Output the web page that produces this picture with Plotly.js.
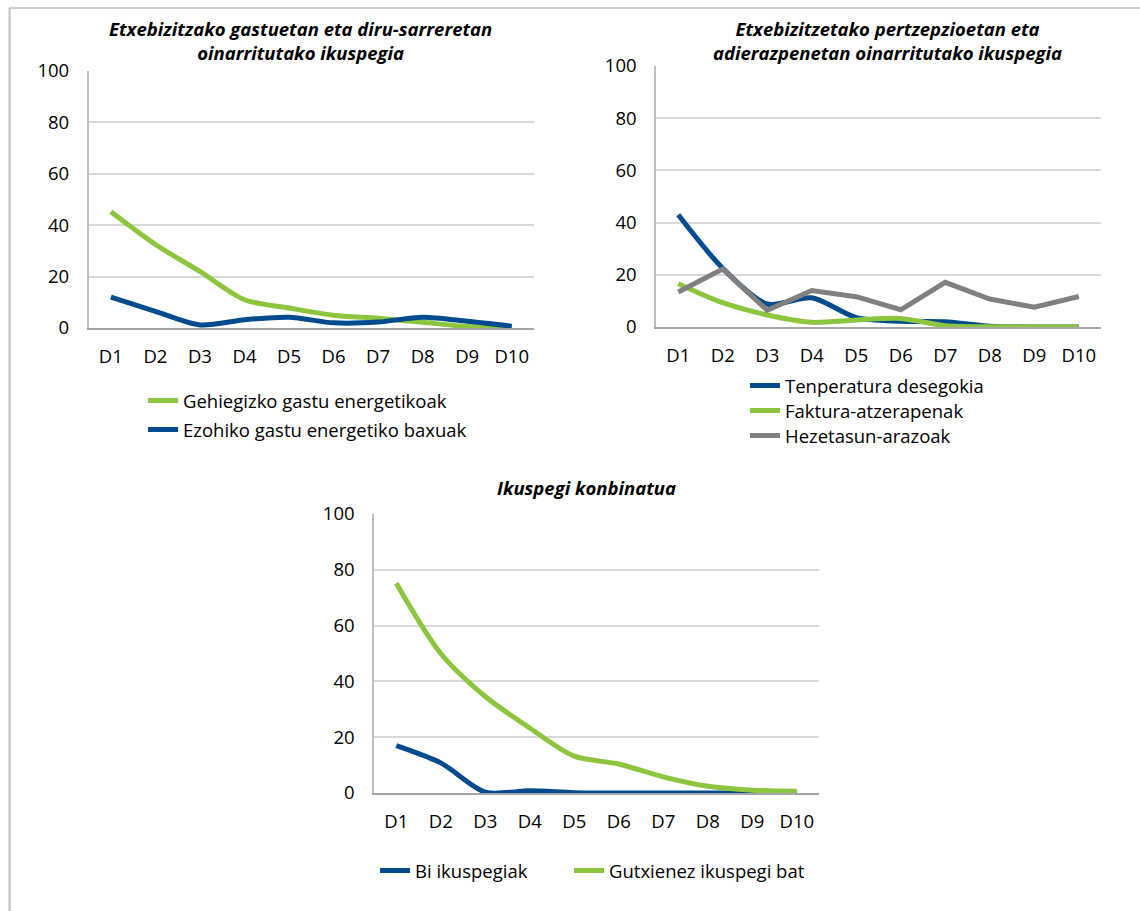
<!DOCTYPE html>
<html>
<head>
<meta charset="utf-8">
<script src="https://cdn.plot.ly/plotly-3.0.1.min.js"></script>
<style>
  html, body { margin: 0; padding: 0; background: #ffffff; }
  #chart { width: 1140px; height: 911px; }
</style>
</head>
<body>
<div id="chart"></div>
<script>
// ---------- DATA ----------
const deciles = ["D1", "D2", "D3", "D4", "D5", "D6", "D7", "D8", "D9", "D10"];

const title1 = "Etxebizitzako gastuetan eta diru-sarreretan<br>oinarritutako ikuspegia";
const title2 = "Etxebizitzetako pertzepzioetan eta<br>adierazpenetan oinarritutako ikuspegia";
const title3 = "Ikuspegi konbinatua";

const name1a = "Gehiegizko gastu energetikoak";
const vals1a = [45.2, 32.5, 22, 11, 7.8, 5, 3.8, 2.2, 0.6, 0.3];
const name1b = "Ezohiko gastu energetiko baxuak";
const vals1b = [12, 6.5, 1.2, 3.2, 4.2, 2, 2.3, 4.2, 2.6, 0.7];

const name2a = "Tenperatura desegokia";
const vals2a = [43, 22.5, 8.8, 11.2, 3.6, 2.2, 2, 0.3, 0, 0];
const name2b = "Faktura-atzerapenak";
const vals2b = [16.6, 9.3, 4.6, 1.8, 2.7, 3.3, 0.5, 0.1, 0, 0];
const name2c = "Hezetasun-arazoak";
const vals2c = [13.4, 22.2, 6.4, 14, 11.6, 6.6, 17.1, 10.7, 7.6, 11.7];

const name3a = "Bi ikuspegiak";
const vals3a = [17, 10.8, 0.3, 0.8, 0.1, 0, 0, 0, 0, 0];
const name3b = "Gutxienez ikuspegi bat";
const vals3b = [75.2, 50, 34.6, 23.3, 13.2, 10.4, 5.8, 2.4, 1, 0.6];

const yTicks = [0, 20, 40, 60, 80, 100];

// ---------- STYLE ----------
const GREEN = "#8cc63f";
const BLUE = "#004b8d";
const GRAY = "#808080";
const FONT = "Open Sans, Noto Sans, sans-serif";
const FS = 18.5;
const W = 1140, H = 911;
const px = v => v / W;
const py = v => 1 - v / H;

function tr(x, y, name, color, xa, ya, legend, smooth) {
  return {
    type: "scatter", mode: "lines", x: x, y: y, name: name,
    xaxis: xa, yaxis: ya, legend: legend,
    line: { color: color, width: 5, shape: smooth ? "spline" : "linear", smoothing: 0.8 },
    hoverinfo: "x+y+name"
  };
}

const data = [
  tr(deciles, vals1a, name1a, GREEN, "x", "y", "legend", true),
  tr(deciles, vals1b, name1b, BLUE, "x", "y", "legend2", true),
  tr(deciles, vals2a, name2a, BLUE, "x2", "y2", "legend3", true),
  tr(deciles, vals2b, name2b, GREEN, "x2", "y2", "legend4", true),
  tr(deciles, vals2c, name2c, GRAY, "x2", "y2", "legend5", false),
  tr(deciles, vals3a, name3a, BLUE, "x3", "y3", "legend6", true),
  tr(deciles, vals3b, name3b, GREEN, "x3", "y3", "legend7", true)
];

function xax(domain, anchor) {
  return {
    domain: domain, anchor: anchor, type: "category",
    categoryorder: "array", categoryarray: deciles,
    range: [-0.5, deciles.length - 0.5],
    showline: true, linecolor: "#a6a6a6", linewidth: 1.5,
    showgrid: false, zeroline: false, ticks: "",
    ticklabelstandoff: 11,
    tickfont: { family: FONT, size: FS, color: "#000" },
    fixedrange: true
  };
}
function yax(domain, anchor) {
  return {
    domain: domain, anchor: anchor, range: [0, 100],
    tickmode: "array", tickvals: yTicks, ticktext: yTicks.map(String),
    showline: true, linecolor: "#bfbfbf", linewidth: 1.5,
    showgrid: true, gridcolor: "#d9d9d9", gridwidth: 1.5,
    zeroline: false, ticks: "",
    ticklabelstandoff: 14,
    tickfont: { family: FONT, size: FS, color: "#000" },
    fixedrange: true
  };
}

function leg(xpx, ypx) {
  return {
    x: px(xpx), y: py(ypx), xanchor: "left", yanchor: "middle",
    xref: "paper", yref: "paper",
    bgcolor: "rgba(0,0,0,0)", borderwidth: 0,
    font: { family: FONT, size: FS, color: "#000" },
    itemclick: false, itemdoubleclick: false
  };
}

function ttl(text, xpx, ypx) {
  return {
    text: text, x: px(xpx), y: py(ypx), xref: "paper", yref: "paper",
    xanchor: "center", yanchor: "middle", showarrow: false, align: "center",
    font: { family: FONT, size: FS, color: "#000", weight: "bold", style: "italic" }
  };
}

const layout = {
  width: W, height: H,
  margin: { l: 0, r: 0, t: 0, b: 0 },
  paper_bgcolor: "#ffffff", plot_bgcolor: "rgba(0,0,0,0)",
  showlegend: true,
  xaxis: xax([px(88.6), px(534)], "y"),
  yaxis: yax([py(328), py(71)], "x"),
  xaxis2: xax([px(656), px(1101)], "y2"),
  yaxis2: yax([py(327), py(66)], "x2"),
  xaxis3: xax([px(374), px(819)], "y3"),
  yaxis3: yax([py(793), py(514)], "x3"),
  legend: leg(143, 401),
  legend2: leg(143, 430),
  legend3: leg(745, 386),
  legend4: leg(745, 411),
  legend5: leg(745, 436),
  legend6: leg(375, 871),
  legend7: leg(569, 871),
  annotations: [
    ttl(title1, 300, 41),
    ttl(title2, 887, 41),
    ttl(title3, 586, 487)
  ],
  shapes: [
    { type: "line", xref: "paper", yref: "paper", x0: px(9), x1: 1, y0: py(8), y1: py(8),
      line: { color: "#c0c0c0", width: 1.5 } },
    { type: "line", xref: "paper", yref: "paper", x0: px(9.5), x1: px(9.5), y0: 0, y1: py(8),
      line: { color: "#c0c0c0", width: 2 } }
  ]
};

Plotly.newPlot("chart", data, layout, { displayModeBar: false, staticPlot: false, responsive: false });
</script>
</body>
</html>
